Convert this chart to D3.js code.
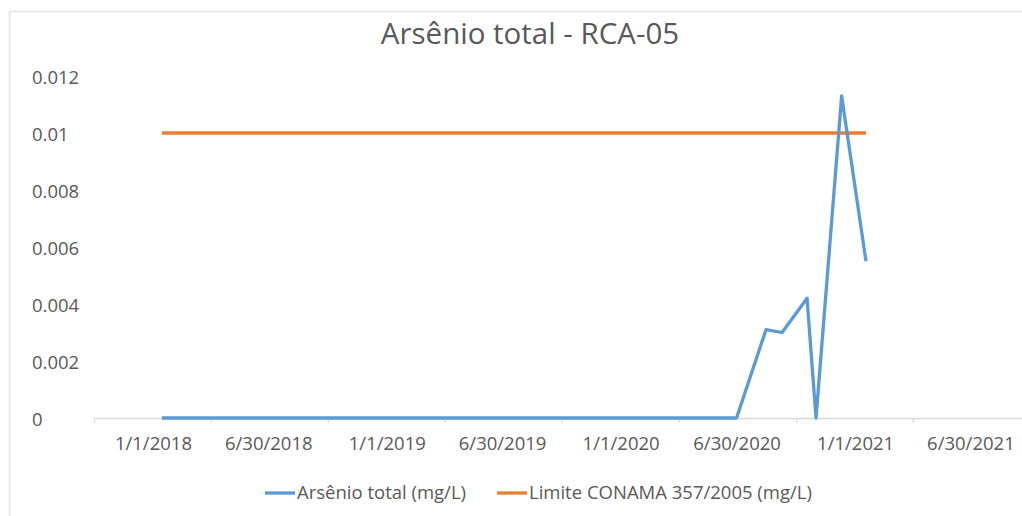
<!DOCTYPE html>
<html>
<head>
<meta charset="utf-8">
<script src="https://cdn.jsdelivr.net/npm/d3@7"></script>
<style>
  html, body { margin: 0; padding: 0; background: #fff; }
  svg { display: block; font-family: "Open Sans", sans-serif; }
</style>
</head>
<body>
<svg id="chart" width="1022" height="516"></svg>
<script>
// ---- data ----
const sampleDates = ["2018-01-15", "2020-06-30", "2020-08-15", "2020-09-09", "2020-10-18", "2020-11-01", "2020-12-11", "2021-01-18"];
const arsenicValues = [0, 0, 0.0031, 0.0030, 0.0042, 0, 0.0113, 0.0055];
const limitValues = [0.01, 0.01, 0.01, 0.01, 0.01, 0.01, 0.01, 0.01];
const xLabelDates = ["2018-01-01", "2018-06-30", "2019-01-01", "2019-06-30", "2020-01-01", "2020-06-30", "2021-01-01", "2021-06-30"];
const xTickBoundaries = ["2017-10-01", "2018-04-01", "2018-10-01", "2019-04-01", "2019-10-01", "2020-04-01", "2020-10-01", "2021-04-01"];
const yTicks = [0, 0.002, 0.004, 0.006, 0.008, 0.01, 0.012];
const seriesNames = ["Arsênio total (mg/L)", "Limite CONAMA 357/2005 (mg/L)"];
const title = "Arsênio total - RCA-05";

const parse = d3.utcParse("%Y-%m-%d");
const fmtLabel = d => (d.getUTCMonth() + 1) + "/" + d.getUTCDate() + "/" + d.getUTCFullYear();

const svg = d3.select("#chart");
const colors = ["#5B9BD5", "#ED7D31"];
const textColor = "#595959";

// chart border
svg.append("rect").attr("x", 9.5).attr("y", 11.5).attr("width", 1040).attr("height", 540)
  .attr("fill", "none").attr("stroke", "#e3e3e3").attr("stroke-width", 1.5);

const x = d3.scaleUtc()
  .domain([parse("2017-10-01"), parse("2021-10-01")])
  .range([94, 1030]);
const y = d3.scaleLinear().domain([0, 0.012]).range([418, 76]);

// title
svg.append("text").attr("x", 530).attr("y", 44).attr("text-anchor", "middle")
  .attr("font-size", 29.5).attr("fill", textColor).text(title);

// y axis labels
const yAxis = svg.append("g").attr("transform", "translate(32,2)")
  .call(d3.axisLeft(y).tickValues(yTicks).tickSize(0).tickFormat(d => String(d)));
yAxis.select(".domain").remove();
yAxis.selectAll("text").attr("x", 0).attr("text-anchor", "start")
  .attr("font-size", 18.5).attr("fill", textColor).attr("font-family", "Open Sans, sans-serif");

// x axis line + tick marks
const xTickAxis = svg.append("g").attr("transform", "translate(0,418)")
  .call(d3.axisBottom(x).tickValues(xTickBoundaries.map(parse)).tickSize(5).tickSizeOuter(0).tickFormat(""));
xTickAxis.select(".domain").attr("stroke", "#d9d9d9").attr("stroke-width", 1.5);
xTickAxis.selectAll(".tick line").attr("stroke", "#d9d9d9").attr("stroke-width", 1.2);

// x labels
const xLabAxis = svg.append("g").attr("transform", "translate(0,418)")
  .call(d3.axisBottom(x).tickValues(xLabelDates.map(parse)).tickSize(0).tickPadding(19).tickFormat(fmtLabel));
xLabAxis.select(".domain").remove();
xLabAxis.selectAll("text").attr("font-size", 18.5).attr("fill", textColor)
  .attr("font-family", "Open Sans, sans-serif");

// lines
const pts = sampleDates.map((d, i) => ({ date: parse(d), a: arsenicValues[i], l: limitValues[i] }));
const lineA = d3.line().x(d => x(d.date)).y(d => y(d.a));
const lineL = d3.line().x(d => x(d.date)).y(d => y(d.l));

svg.append("path").datum(pts).attr("d", lineL).attr("fill", "none")
  .attr("stroke", colors[1]).attr("stroke-width", 3.3).attr("stroke-linejoin", "round");
svg.append("path").datum(pts).attr("d", lineA).attr("fill", "none")
  .attr("stroke", colors[0]).attr("stroke-width", 3.3).attr("stroke-linejoin", "round");

// legend
const legendItems = [{ x: 265 }, { x: 497 }];
legendItems.forEach((it, i) => {
  const g = svg.append("g").attr("transform", `translate(${it.x},493)`);
  g.append("line").attr("x1", 0).attr("x2", 30).attr("y1", 0).attr("y2", 0)
    .attr("stroke", colors[i]).attr("stroke-width", 3.3);
  g.append("text").attr("x", 32).attr("y", 0).attr("dy", "0.35em")
    .attr("font-size", 18.5).attr("fill", textColor).text(seriesNames[i]);
});
</script>
</body>
</html>
